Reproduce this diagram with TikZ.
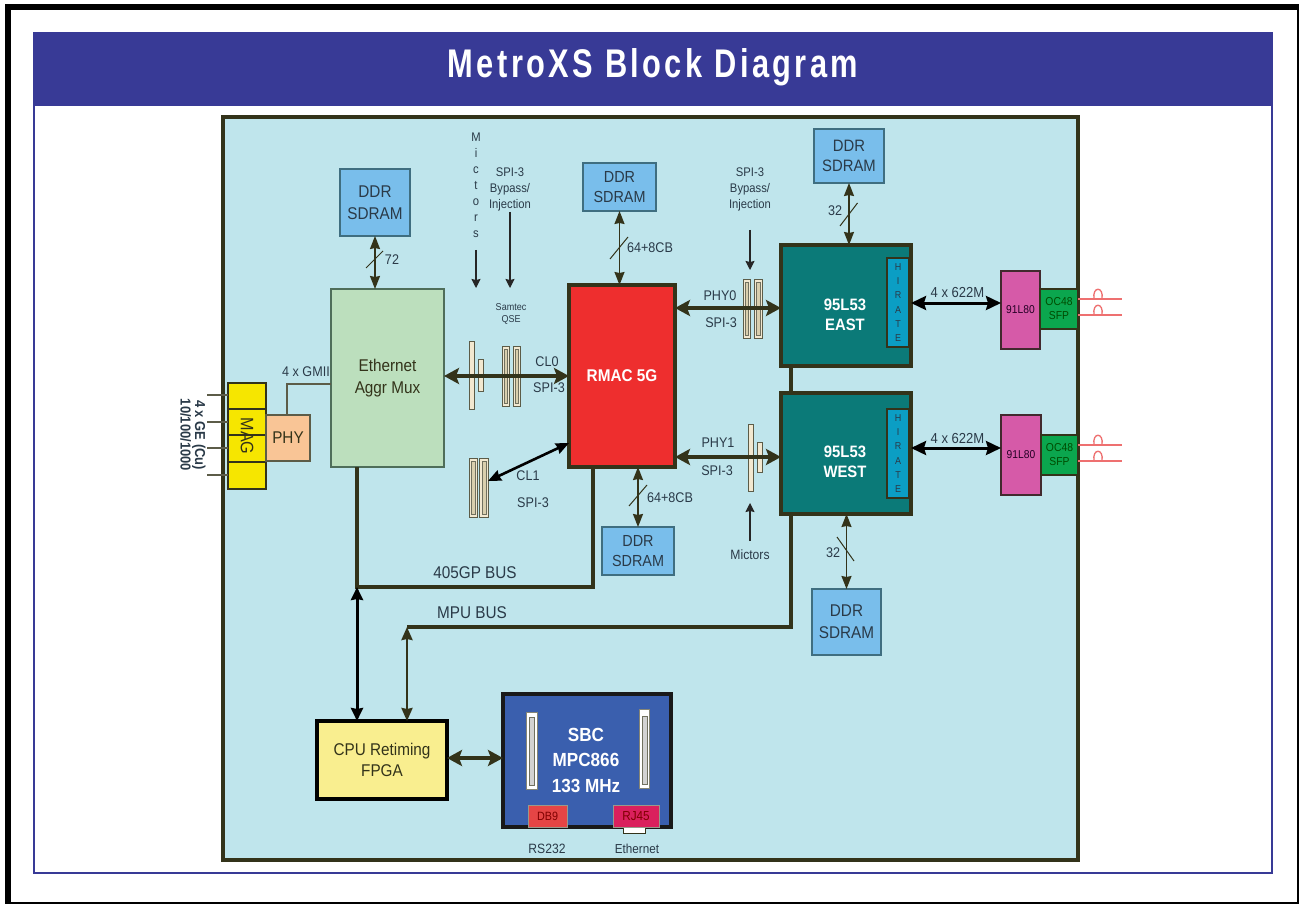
\documentclass[tikz,border=0pt]{standalone}
\usepackage{fontspec}
\usetikzlibrary{arrows.meta}
\setmainfont{Liberation Sans}[FakeStretch=0.9]
\newfontfamily\titlefont{Liberation Sans}[FakeStretch=0.77,LetterSpace=8.5]
\definecolor{band}{HTML}{383A96}
\definecolor{panel}{HTML}{BFE5EC}
\definecolor{dk}{HTML}{33331A}
\definecolor{txt}{HTML}{2A3A48}
\definecolor{ddrf}{HTML}{79BEEB}
\definecolor{ddrd}{HTML}{3F6E80}
\definecolor{ethf}{HTML}{BCDFBD}
\definecolor{ethd}{HTML}{4F6E5A}
\definecolor{redf}{HTML}{EE2E2E}
\definecolor{tealf}{HTML}{0B7A78}
\definecolor{hir}{HTML}{0B9EC4}
\definecolor{pinkf}{HTML}{D65AA8}
\definecolor{greenf}{HTML}{0BA64E}
\definecolor{magf}{HTML}{F6E600}
\definecolor{phyf}{HTML}{F9C596}
\definecolor{fpgaf}{HTML}{F9EE8F}
\definecolor{sbcf}{HTML}{3A5FAE}
\definecolor{cream}{HTML}{F2E8D0}
\definecolor{tan2}{HTML}{D9CFAE}
\definecolor{lnk}{HTML}{EE7070}
\newcommand\ft[2]{\fontsize{#1}{#2}\selectfont}
\newcommand\bx[6]{\node[#6,minimum width={(#4-#2)*1pt},minimum height={(#5-#3)*1pt}] (#1) at ({(#2+#4)/2},{(#3+#5)/2})}
\tikzset{
  x=1pt,y=-1pt,
  every node/.style={inner sep=0pt,outer sep=0pt,align=center,text=txt},
  lab/.style={font=\ft{14}{16}},
  ddr/.style={draw=ddrd,fill=ddrf,line width=1.3pt,text=txt},
  teal/.style={draw=dk,fill=tealf,line width=4pt,text=white,font=\ft{16.5}{20.5}\bfseries},
  hirate/.style={draw=dk,fill=hir,line width=1.2pt,text=txt,font=\ft{10}{14.3}},
  pinkbox/.style={draw=dk!80!violet,fill=pinkf,line width=1.3pt,text=black!70!violet,font=\ft{11.4}{13}},
  sfp/.style={draw=dk,fill=greenf,line width=1.3pt,text=green!30!black,font=\ft{11.5}{14}},
  magbox/.style={draw=dk,fill=magf,line width=1.2pt},
  cbar/.style={draw=dk!80,fill=cream,line width=.9pt},
  cin/.style={draw=dk!70,fill=tan2,line width=.5pt},
  sbar/.style={draw=dk!60,fill=white,line width=.9pt},
  sin/.style={draw=dk!70,fill=gray!35,line width=.6pt},
  mem/.style={draw=dk,line width=1.5pt,{Stealth[length=13pt,width=10pt,inset=1pt]}-{Stealth[length=13pt,width=10pt,inset=1pt]}},
  buswide/.style={draw=dk,line width=3.6pt,{Stealth[length=15pt,width=16pt,inset=3pt]}-{Stealth[length=15pt,width=16pt,inset=3pt]}},
  busblk/.style={draw=black,line width=3pt,{Stealth[length=15pt,width=14pt,inset=2pt]}-{Stealth[length=15pt,width=14pt,inset=2pt]}},
  busmid/.style={line width=2.6pt,{Stealth[length=13pt,width=11pt,inset=1pt]}-{Stealth[length=13pt,width=11pt,inset=1pt]}},
  bus/.style={draw=dk,line width=3.4pt},
  thin arrow/.style={draw=black!85,line width=1.1pt,-{Stealth[length=9pt,width=9pt,inset=1pt]}},
  slash/.style={draw=dk,line width=1pt},
  fine/.style={draw=dk!80,line width=1.1pt},
  fibre/.style={draw=lnk,line width=1.3pt},
}
\begin{document}
\begin{tikzpicture}
\useasboundingbox (0,0) rectangle (1299,904);
\clip (0,0) rectangle (1299,904);
\fill[white] (0,0) rectangle (1299,904);
% outer frame
\draw[black,line width=6pt] (8,7) rectangle (1300,905);
\draw[band,line width=2pt] (34,33) rectangle (1272,873);
\bx{title}{33}{32}{1273}{106}{fill=band}{};
\node[text=white,font=\titlefont\ft{40}{44}\bfseries] (titletext) at (653,67) {MetroXS Block Diagram};
% panel
\bx{panel}{223}{117}{1078}{860}{draw=dk,fill=panel,line width=3.6pt}{};

% named bus points
\coordinate (yphy0) at (0,308);
\coordinate (yphy1) at (0,457);
\coordinate (ybus1) at (0,587);
\coordinate (ympu) at (0,627);
\coordinate (ysbc) at (0,758);
\coordinate (ycla) at (0,443);
\coordinate (yclb) at (0,481);
\coordinate (yhia) at (0,303);
\coordinate (yhib) at (0,448);
\coordinate (xbus1) at (357,0);
\coordinate (xbus1r) at (593,0);
\coordinate (xmpu) at (407,0);
\coordinate (xew) at (791,0);
\coordinate (xgmii) at (287,0);
\coordinate (ygmii) at (0,384);
\coordinate (ymaga) at (0,409);
\coordinate (ymagb) at (0,435);
\coordinate (ymagc) at (0,462);

% memories
\bx{ddra}{340}{169}{410}{236}{ddr,font=\ft{17}{21.5}}{DDR\\SDRAM};
\bx{ddrb}{583}{163}{656}{211}{ddr,font=\ft{16}{19.5}}{DDR\\SDRAM};
\bx{ddrc}{814}{129}{884}{183}{ddr,font=\ft{16.5}{20.5}}{DDR\\SDRAM};
\bx{ddrd}{602}{527}{674}{575}{ddr,font=\ft{16}{19.5}}{DDR\\SDRAM};
\bx{ddre}{812}{589}{881}{655}{ddr,font=\ft{17}{22}}{DDR\\SDRAM};

% main blocks
\bx{mag}{228}{383}{266}{489}{magbox}{};
\draw[dk,line width=1.2pt] (mag.west |- ymaga) -- (mag.east |- ymaga);
\draw[dk,line width=1.2pt] (mag.west |- ymagb) -- (mag.east |- ymagb);
\draw[dk,line width=1.2pt] (mag.west |- ymagc) -- (mag.east |- ymagc);
\node[rotate=-90,font=\ft{18}{20},text=dk] (magtext) at (247,436) {MAG};
\bx{phy}{266}{415}{310}{461}{draw=dk!80,fill=phyf,line width=1.2pt,font=\ft{17}{20},text=dk}{PHY};
\bx{eth}{331}{289}{444}{467}{draw=ethd,fill=ethf,line width=1.3pt,font=\ft{17}{21.5},text=dk}{Ethernet\\Aggr Mux};
\bx{rmac}{569}{285}{675}{467}{draw=dk,fill=redf,line width=4pt,text=white,font=\ft{17}{20}\bfseries}{RMAC 5G};
\bx{east}{781}{245}{911}{366}{teal}{};
\bx{west}{781}{393}{911}{514}{teal}{};
\node[text=white,font=\ft{16.5}{20.5}\bfseries] (easttext) at (845,315) {95L53\\EAST};
\node[text=white,font=\ft{16.5}{20.5}\bfseries] (westtext) at (845,462) {95L53\\WEST};
\bx{hira}{887}{258}{909}{347}{hirate}{H\\I\\R\\A\\T\\E};
\bx{hirb}{887}{409}{909}{498}{hirate}{H\\I\\R\\A\\T\\E};
\bx{pinka}{1001}{271}{1040}{349}{pinkbox}{91L80};
\bx{pinkb}{1001}{415}{1041}{495}{pinkbox}{91L80};
\bx{sfpa}{1040}{289}{1078}{329}{sfp}{OC48\\SFP};
\bx{sfpb}{1041}{435}{1078}{475}{sfp}{OC48\\SFP};
\bx{fpga}{317}{721}{447}{799}{draw=black,fill=fpgaf,line width=4pt,text=dk,font=\ft{17}{21}}{CPU Retiming\\FPGA};
\bx{sbc}{503}{694}{671}{827}{draw=black!90,fill=sbcf,line width=4pt}{};
\node[text=white,font=\ft{19}{25.5}\bfseries] (sbctext) at (586,760) {SBC\\MPC866\\133 MHz};
\bx{sbca}{526}{712}{537}{789}{sbar}{};
\bx{sbcai}{529}{717}{534}{785}{sin}{};
\bx{sbcb}{639}{709}{649}{788}{sbar}{};
\bx{sbcbi}{642}{716}{647}{784}{sin}{};
\bx{tab}{623}{826}{645}{833}{draw=dk,fill=white,line width=.9pt}{};
\bx{dbn}{528}{805}{567}{827}{draw=dk!50,fill=red!70!white!90!black,line width=.8pt,text=red!50!black,font=\ft{12}{14}}{DB9};
\bx{rjn}{613}{805}{659}{827}{draw=dk!50,fill=magenta!55!red!90!black,line width=.8pt,text=red!50!black,font=\ft{13}{14}}{RJ45};

% connector bars
\bx{ba}{469}{341}{474}{409}{cbar}{};
\bx{bb}{478}{359}{483}{391}{cbar}{};
\bx{qa}{502}{346}{509}{406}{cbar}{};
\bx{qai}{504}{349}{507.5}{403}{cin}{};
\bx{qb}{513}{346}{520}{406}{cbar}{};
\bx{qbi}{515}{349}{518.5}{403}{cin}{};
\bx{qc}{469}{458}{477}{517}{cbar}{};
\bx{qci}{471.5}{461}{475}{514}{cin}{};
\bx{qd}{479}{458}{488}{517}{cbar}{};
\bx{qdi}{482}{461}{486}{514}{cin}{};
\bx{qe}{743}{279}{750}{338}{cbar}{};
\bx{qei}{745}{282}{748.5}{335}{cin}{};
\bx{qf}{754}{279}{762}{338}{cbar}{};
\bx{qfi}{756.5}{282}{760}{335}{cin}{};
\bx{bc}{748}{424}{753}{491}{cbar}{};
\bx{bd}{757}{442}{762}{472}{cbar}{};

% data connectors
\draw[buswide] (eth.east |- rmac.west) -- (rmac.west);
\draw[busmid,draw=black] (rmac.west |- ycla) -- (qd.east |- yclb);
\draw[buswide] (rmac.east |- yphy0) -- (east.west |- yphy0);
\draw[buswide] (rmac.east |- yphy1) -- (west.west |- yphy1);
\draw[busblk] (east.east |- yhia) -- (pinka.west |- yhia);
\draw[busblk] (west.east |- yhib) -- (pinkb.west |- yhib);
\draw[mem] (ddra.south) -- (ddra.south |- eth.north);
\draw[mem] (ddrb.south) -- (ddrb.south |- rmac.north);
\draw[mem] (ddrc.south) -- (ddrc.south |- east.north);
\draw[mem] (ddrd.north |- rmac.south) -- (ddrd.north);
\draw[mem] (ddre.north |- west.south) -- (ddre.north);
\draw[slash] (366,268) -- (383,251);
\draw[slash] (610,259) -- (628,237);
\draw[slash] (840,226) -- (857.5,203);
\draw[slash] (629,506) -- (647,485);
\draw[slash] (837,537) -- (854,561);

% buses
\draw[bus] (east.south -| xew) -- (west.north -| xew);
\draw[bus] (eth.south -| xbus1) -- (xbus1 |- ybus1) -- (xbus1r |- ybus1) -- (rmac.south -| xbus1r);
\draw[bus] (west.south -| xew) -- (xew |- ympu) -- (xmpu |- ympu);
\draw[busblk,{Stealth[length=13pt,width=12pt,inset=1pt]}-{Stealth[length=13pt,width=12pt,inset=1pt]}] (xbus1 |- ybus1) -- (fpga.north -| xbus1);
\draw[busmid,draw=dk] (xmpu |- ympu) -- (fpga.north -| xmpu);
\draw[buswide] (fpga.east |- ysbc) -- (sbc.west |- ysbc);

% PHY and MAG lines
\draw[fine] (phy.north -| xgmii) -- (xgmii |- ygmii) -- (eth.west |- ygmii);
\coordinate (fa) at (207,395);
\coordinate (fb) at (207,422);
\coordinate (fc) at (207,448);
\coordinate (fd) at (207,475);
\draw[fine] (fa) -- (mag.west |- fa);
\draw[fine] (fb) -- (mag.west |- fb);
\draw[fine] (fc) -- (mag.west |- fc);
\draw[fine] (fd) -- (mag.west |- fd);

% fibres
\coordinate (ea) at (1122,299);
\coordinate (eb) at (1122,315);
\coordinate (ec) at (1122,445);
\coordinate (ed) at (1122,461);
\foreach \yy/\cc/\bb in {299/ea/sfpa,315/eb/sfpa,445/ec/sfpb,461/ed/sfpb}{
  \draw[fibre] (\bb.east |- \cc) -- (\cc);
  \draw[fibre] (1094,\yy) .. controls (1092,{\yy-13}) and (1104,{\yy-13}) .. (1102,\yy);
}

% small arrows
\coordinate (micA) at (476,250);
\coordinate (micB) at (476,288);
\coordinate (spiA) at (510,212);
\coordinate (spiB) at (510,288);
\coordinate (spiC) at (750,230);
\coordinate (spiD) at (750,270);
\coordinate (micC) at (750,541);
\coordinate (micD) at (750,503);
\draw[thin arrow] (micA) -- (micB);
\draw[thin arrow] (spiA) -- (spiB);
\draw[thin arrow] (spiC) -- (spiD);
\draw[thin arrow] (micC) -- (micD);

% labels
\node[lab] (l72) at (392,260) {72};
\node[lab] (lgmii) at (306,372) {4 x GMII};
\node[font=\ft{12.5}{16}] (lmict) at (476,185) {M\\i\\c\\t\\o\\r\\s};
\node[font=\ft{12.5}{16}] (lspia) at (510,189) {SPI-3\\Bypass/\\Injection};
\node[font=\ft{12.5}{16}] (lspib) at (750,189) {SPI-3\\Bypass/\\Injection};
\node[font=\ft{10}{12}] (lqse) at (511,314) {Samtec\\QSE};
\node[lab] (lcl0) at (547,362) {CL0};
\node[lab] (lspi0) at (549,388) {SPI-3};
\node[lab] (lcl1) at (528,476) {CL1};
\node[lab] (lspi1) at (533,503) {SPI-3};
\node[lab] (lphy0) at (720,296) {PHY0};
\node[lab] (lspi2) at (721,323) {SPI-3};
\node[lab] (lphy1) at (718,443) {PHY1};
\node[lab] (lspi3) at (717,471) {SPI-3};
\node[lab] (l64a) at (650,248) {64+8CB};
\node[lab] (l64b) at (670,498) {64+8CB};
\node[lab] (l32a) at (835,211) {32};
\node[lab] (l32b) at (833,553) {32};
\node[font=\ft{14.5}{16}] (l622a) at (957.5,293) {4 x 622M};
\node[font=\ft{14.5}{16}] (l622b) at (957.5,439) {4 x 622M};
\node[font=\ft{13.5}{16}] (lmicb) at (750,555) {Mictors};
\node[font=\ft{17}{20}] (lgp) at (475,573) {405GP BUS};
\node[font=\ft{17}{20}] (lmpu) at (472,613) {MPU BUS};
\node[font=\ft{13.5}{16}] (lrs) at (547,849) {RS232};
\node[font=\ft{13}{16}] (leth) at (637,849) {Ethernet};
\node[rotate=-90,font=\ft{14.4}{12.5}\bfseries] (lge) at (193,435) {4 x GE (Cu)\\10/100/1000};
\end{tikzpicture}
\end{document}
